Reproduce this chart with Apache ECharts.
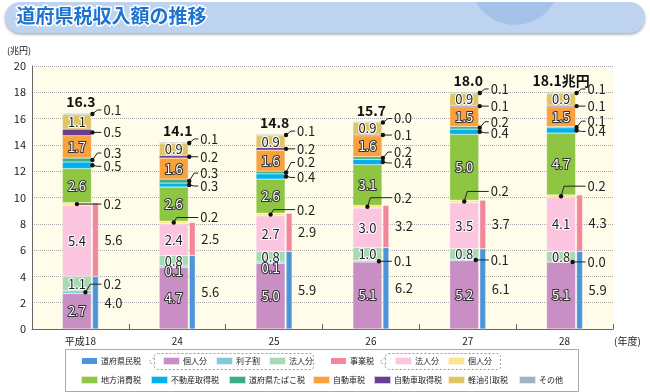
<!DOCTYPE html>
<html><head><meta charset="utf-8">
<script src="https://cdn.jsdelivr.net/npm/echarts@6/dist/echarts.min.js"></script>
<style>html,body{margin:0;padding:0;background:#fff}#c{width:650px;height:392px}</style>
</head><body><div id="c"></div><script>
// ---- data ----
const years = ['平成18', '24', '25', '26', '27', '28'];
const totals = [16.3, 14.1, 14.8, 15.7, 18.0, 18.1];
const prefInhabitantTotal = [4.0, 5.6, 5.9, 6.2, 6.1, 5.9];   // 道府県民税
const inhabIndividual = [2.7, 4.7, 5.0, 5.1, 5.2, 5.1];       // 個人分
const inhabInterest = [0.2, 0.1, 0.1, 0.1, 0.1, 0.0];         // 利子割
const inhabCorporate = [1.1, 0.8, 0.8, 1.0, 0.8, 0.8];        // 法人分
const enterpriseTotal = [5.6, 2.5, 2.9, 3.2, 3.7, 4.3];       // 事業税
const enterpriseCorporate = [5.4, 2.4, 2.7, 3.0, 3.5, 4.1];   // 法人分
const enterpriseIndividual = [0.2, 0.2, 0.2, 0.2, 0.2, 0.2];  // 個人分
const localConsumption = [2.6, 2.6, 2.6, 3.1, 5.0, 4.7];      // 地方消費税
const realEstate = [0.5, 0.3, 0.4, 0.4, 0.4, 0.4];            // 不動産取得税
const tobacco = [0.3, 0.3, 0.2, 0.2, 0.2, 0.1];               // 道府県たばこ税
const autoTax = [1.7, 1.6, 1.6, 1.6, 1.5, 1.5];               // 自動車税
const autoAcq = [0.5, 0.2, 0.2, 0.1, 0.1, 0.1];               // 自動車取得税
const lightOil = [1.1, 0.9, 0.9, 0.9, 0.9, 0.9];              // 軽油引取税
const other = [0.1, 0.1, 0.1, 0.0, 0.1, 0.1];                 // その他
const yTicks = { min: 0, max: 20, interval: 2 };

// ---- styling / layout ----
const FONT = '"Noto Sans CJK JP", "Noto Sans", sans-serif';
const MAIN_W = 29, SIDE_W = 6;
const mainSeries = [
  { name: '個人分(県民税)', data: inhabIndividual, color: '#c98fc5', inside: 'dark' },
  { name: '利子割', data: inhabInterest, color: '#7fcbd9', inside: null },
  { name: '法人分(県民税)', data: inhabCorporate, color: '#a8d9b3', inside: 'light' },
  { name: '法人分(事業税)', data: enterpriseCorporate, color: '#fbc4df', inside: 'light' },
  { name: '個人分(事業税)', data: enterpriseIndividual, color: '#fde58e', inside: null },
  { name: '地方消費税', data: localConsumption, color: '#8ec643', inside: 'dark' },
  { name: '不動産取得税', data: realEstate, color: '#00b1ec', inside: null },
  { name: '道府県たばこ税', data: tobacco, color: '#3aad84', inside: null },
  { name: '自動車税', data: autoTax, color: '#f8a13d', inside: 'dark' },
  { name: '自動車取得税', data: autoAcq, color: '#6b3e90', inside: null },
  { name: '軽油引取税', data: lightOil, color: '#e0c566', inside: 'light' },
  { name: 'その他', data: other, color: '#9fb4c2', inside: null }
];
const sideSeries = [
  { name: '道府県民税', data: prefInhabitantTotal, color: '#4d95d8' },
  { name: '事業税', data: enterpriseTotal, color: '#f3869b' }
];
const insideStyles = {
  dark: { color: '#fff', textBorderColor: '#333', textBorderWidth: 2 },
  light: { color: '#222', textBorderColor: '#fff', textBorderWidth: 2 }
};
// leader-line annotations: series index in mainSeries, anchor, label y-offset per year (null = inside)
const leaderSpecs = [
  { k: 11, anchor: 'right', dy: [-4, -4, -4, -4, -4, -4] },
  { k: 9, anchor: 'right', dy: [0, 0, 0, 0, 0, 0] },
  { k: 7, anchor: 'right', dy: [-7, -8, -10, -6, -6, -6] },
  { k: 6, anchor: 'right', dy: [1, 1, 1, 1, 1, 1] },
  { k: 4, anchor: 'center', dy: [0, -5, -5, -9, -10, -10] },
  { k: 1, anchor: 'inner', dy: [-8, null, null, 0, 0, 0] }
];

function segMid(k, i) {
  let b = 0;
  for (let j = 0; j < k; j++) b += mainSeries[j].data[i];
  return b + mainSeries[k].data[i] / 2;
}
function stackTop(i) {
  let b = 0;
  mainSeries.forEach(s => b += s.data[i]);
  return b;
}

function renderAnnot(params, api) {
  const i = params.dataIndex;
  const c = api.coord([i, 0])[0];
  const gap = MAIN_W * 0.035;
  const total = MAIN_W + gap + SIDE_W;
  const mainL = c - total / 2, mainR = mainL + MAIN_W, mainC = mainL + MAIN_W / 2;
  const sideR = c + total / 2;
  const labelX = sideR + 5;
  const ch = [];
  leaderSpecs.forEach(sp => {
    const v = mainSeries[sp.k].data[i];
    const y0 = api.coord([i, segMid(sp.k, i)])[1];
    const dy = sp.dy[i];
    const txt = v.toFixed(1);
    if (dy === null) {
      ch.push({ type: 'text', style: { x: mainC, y: y0 + 5, text: txt, align: 'center', verticalAlign: 'middle',
        font: '13px ' + FONT, fill: '#fff', stroke: '#333', lineWidth: 2 }, z2: 5 });
      return;
    }
    const dx = sp.anchor === 'right' ? mainR + 1 : sp.anchor === 'center' ? mainC : mainR - (i === 0 ? 6 : 3);
    const ly = y0 + dy;
    const pts = dy === 0 ? [[dx, y0], [labelX - 2, ly]] : [[dx, y0], [dx + (sp.anchor === 'center' ? 3 : 5), ly], [labelX - 2, ly]];
    ch.push({ type: 'polyline', shape: { points: pts }, style: { stroke: '#222', lineWidth: 1, fill: null } });
    ch.push({ type: 'circle', shape: { cx: dx, cy: y0, r: 2.2 }, style: { fill: '#111' } });
    ch.push({ type: 'text', style: { x: labelX, y: ly, text: txt, align: 'left', verticalAlign: 'middle',
      font: '13px ' + FONT, fill: '#222' } });
  });
  const last = i === years.length - 1;
  const ty = api.coord([i, stackTop(i)])[1] - 12;
  ch.push({ type: 'text', style: { x: mainC + (last ? 0 : 4), y: ty, text: totals[i].toFixed(1) + (last ? '兆円' : ''),
    align: 'center', verticalAlign: 'middle', font: 'bold 14px ' + FONT, fill: '#111' } });
  return { type: 'group', children: ch };
}

const series = [];
mainSeries.forEach(s => {
  series.push({
    type: 'bar', name: s.name, stack: 'main', barWidth: MAIN_W, barGap: '3.5%', barMinHeight: 1,
    itemStyle: { color: s.color, borderColor: 'rgba(255,255,255,0.7)', borderWidth: 0.4 },
    data: s.data,
    label: s.inside ? Object.assign({ show: true, position: 'inside', fontSize: 13, fontFamily: FONT,
      formatter: p => p.value.toFixed(1) }, insideStyles[s.inside]) : { show: false },
    emphasis: { disabled: true }, animation: false
  });
});
sideSeries.forEach(s => {
  series.push({
    type: 'bar', name: s.name, stack: 'side', barWidth: SIDE_W, barGap: '3.5%',
    itemStyle: { color: s.color, borderColor: '#fff', borderWidth: 0.4 }, data: s.data,
    label: { show: true, position: 'right', distance: 6, fontSize: 13, fontFamily: FONT, color: '#222',
      formatter: p => p.value.toFixed(1) },
    emphasis: { disabled: true }, animation: false
  });
});
series.push({
  type: 'custom', name: 'annot', renderItem: renderAnnot, data: years.map((y, i) => [i, 0]),
  encode: { x: 0, y: 1 }, z: 10, silent: true, clip: false, animation: false
});

const legendLayout = [
  ['道府県民税', 80, 0], ['個人分(県民税)', 162, 0], ['利子割', 215, 0], ['法人分(県民税)', 268, 0],
  ['事業税', 329, 0], ['法人分(事業税)', 394, 0], ['個人分(事業税)', 447, 0],
  ['地方消費税', 80, 1], ['不動産取得税', 150, 1], ['道府県たばこ税', 228, 1], ['自動車税', 312, 1],
  ['自動車取得税', 373, 1], ['軽油引取税', 447, 1], ['その他', 518, 1]
];
const legends = legendLayout.map(([n, x, r]) => ({
  data: [n], left: x, top: r ? 375 : 356, itemWidth: 17, itemHeight: 8, itemGap: 0, padding: 0,
  icon: 'rect', selectedMode: false, formatter: s => s.replace(/\(.*\)/, ''),
  textStyle: { fontSize: 8, color: '#222', fontFamily: FONT, padding: [0, 0, 0, -2] }
}));

const option = {
  animation: false,
  textStyle: { fontFamily: FONT },
  grid: { left: 32, right: 37, top: 66, bottom: 63, show: true, backgroundColor: '#fffde9', borderWidth: 0, outerBoundsMode: 'none' },
  xAxis: {
    type: 'category', data: years,
    axisLine: { lineStyle: { color: '#666', width: 1 } },
    axisTick: { show: true, inside: true, length: 5, lineStyle: { color: '#666' } },
    axisLabel: { fontSize: 10, color: '#222', margin: 7 }
  },
  yAxis: {
    type: 'value', min: yTicks.min, max: yTicks.max, interval: yTicks.interval,
    axisLine: { show: true, lineStyle: { color: '#666' } },
    axisTick: { show: false },
    axisLabel: { fontSize: 11, color: '#222', margin: 6 },
    splitLine: { lineStyle: { type: 'dotted', color: '#aaa' } }
  },
  legend: legends,
  graphic: [
    { type: 'rect', shape: { x: 5, y: 2, width: 640, height: 31, r: 15.5 }, z: 0,
      style: { fill: '#bdd3f0', shadowBlur: 3, shadowOffsetY: 1.5, shadowColor: 'rgba(0,0,0,0.35)' } },
    { type: 'circle', shape: { cx: 515, cy: -20, r: 45 }, z: 1, style: { fill: 'rgba(80,135,210,0.22)' } },
    { type: 'rect', shape: { x: 0, y: 0, width: 650, height: 2 }, z: 1, style: { fill: '#fff' } },
    { type: 'text', left: 15, top: 5, z: 2,
      style: { text: '道府県税収入額の推移', font: 'bold 19px ' + FONT, fill: '#1c74d0', stroke: '#fff', lineWidth: 3 } },
    { type: 'text', left: 7, top: 46, style: { text: '(兆円)', font: '9px ' + FONT, fill: '#222' } },
    { type: 'text', left: 614, top: 336, style: { text: '(年度)', font: '10px ' + FONT, fill: '#222' } },
    { type: 'rect', shape: { x: 65.5, y: 349.5, width: 513, height: 42 }, z: 0, style: { fill: '#fff', stroke: '#aaa', lineWidth: 1 } },
    { type: 'rect', shape: { x: 154.5, y: 353.5, width: 159, height: 16, r: 3 }, z: 1, style: { fill: null, stroke: '#999', lineDash: [2, 2], lineWidth: 1 } },
    { type: 'polyline', shape: { points: [[154, 357.5], [149, 361.5], [154, 365.5]] }, z: 1, style: { stroke: '#999', lineDash: [2, 2], fill: null } },
    { type: 'rect', shape: { x: 385.5, y: 353.5, width: 115, height: 16, r: 3 }, z: 1, style: { fill: null, stroke: '#999', lineDash: [2, 2], lineWidth: 1 } },
    { type: 'polyline', shape: { points: [[385, 357.5], [380, 361.5], [385, 365.5]] }, z: 1, style: { stroke: '#999', lineDash: [2, 2], fill: null } }
  ],
  series
};
const chart = echarts.init(document.getElementById('c'));
chart.setOption(option);
</script></body></html>
